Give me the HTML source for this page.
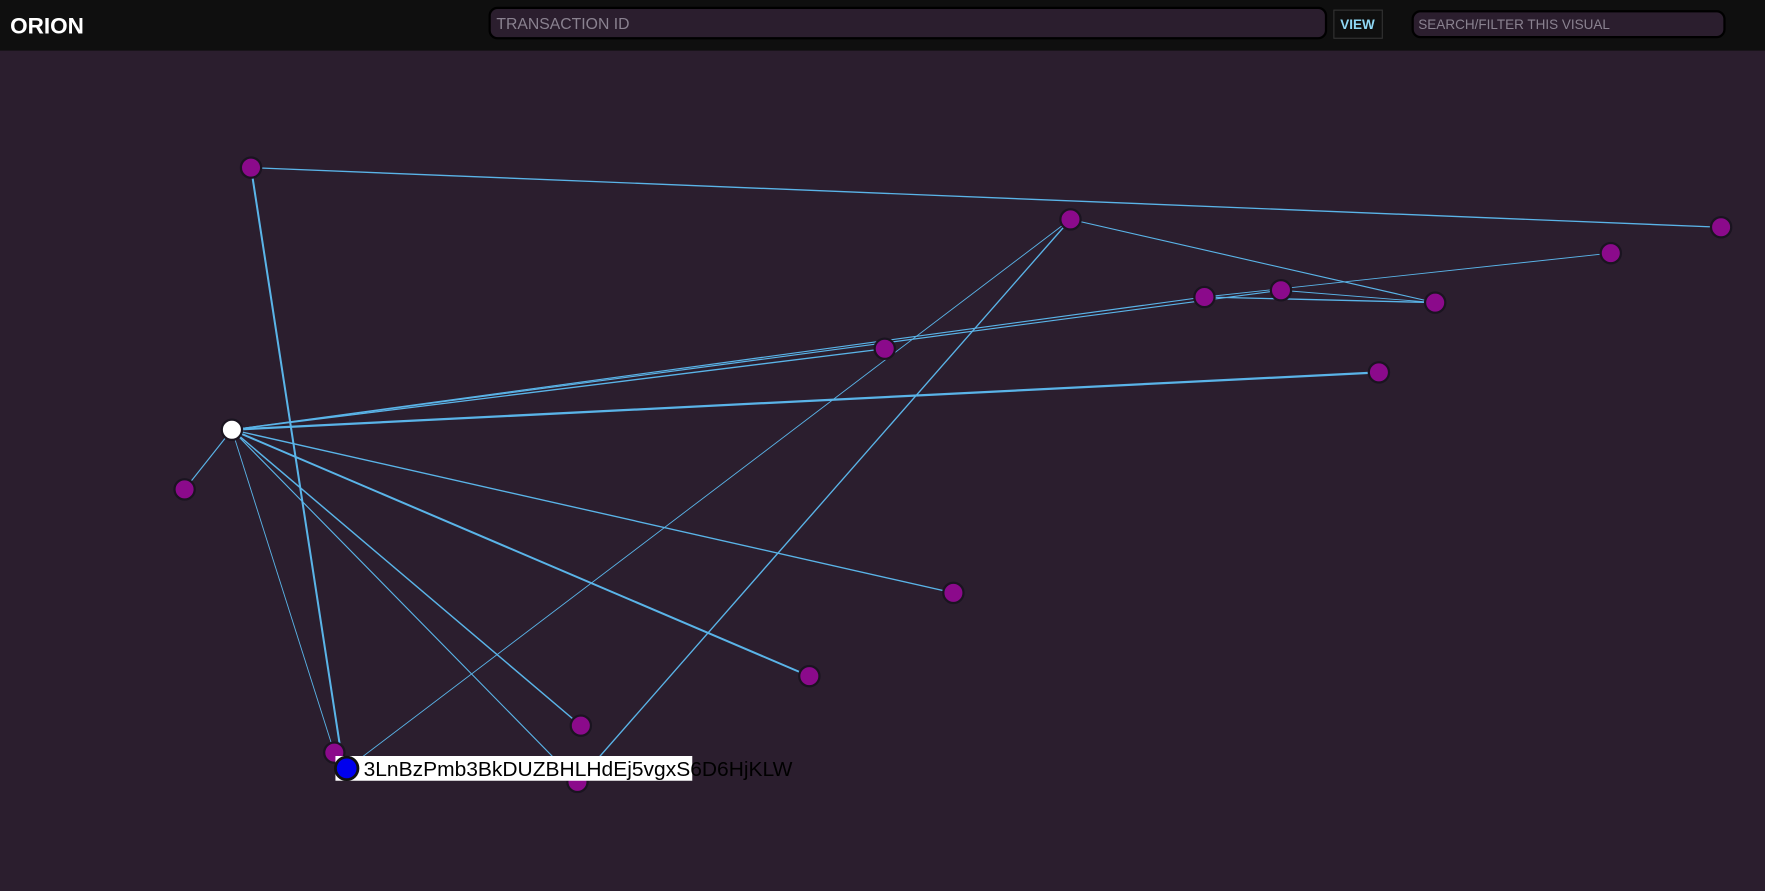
<!DOCTYPE html>
<html><head><meta charset="utf-8"><style>
html,body{margin:0;padding:0;background:#2b1e2e;overflow:hidden}
svg{display:block}
text{font-family:"Liberation Sans",sans-serif}
</style></head><body>
<svg width="1765" height="891" viewBox="0 0 1568 792" preserveAspectRatio="none" xmlns="http://www.w3.org/2000/svg">
<rect x="0" y="0" width="1568" height="792" fill="#2b1e2e"/>
<rect x="0" y="0" width="1568" height="45" fill="#0f0f0f"/>
<text x="9" y="30" font-size="20" fill="#fff" font-weight="bold">ORION</text>
<rect x="435" y="7" width="743" height="27" rx="7" fill="#2b1e2e" stroke="#000" stroke-width="2"/>
<text x="441" y="26" font-size="14" fill="#8a8290">TRANSACTION ID</text>
<rect x="1185" y="9" width="43" height="25" fill="#0f0f0f" stroke="#333" stroke-width="1"/>
<text x="1206" y="26" font-size="12" fill="#8fd8f5" font-weight="bold" text-anchor="middle">VIEW</text>
<rect x="1255" y="10" width="277" height="23" rx="7" fill="#2b1e2e" stroke="#000" stroke-width="2"/>
<text x="1260" y="26" font-size="12" fill="#8a8290">SEARCH/FILTER THIS VISUAL</text>
<g stroke="#5ab4e8" fill="none">
<line x1="223" y1="149" x2="1529" y2="202" stroke-width="1.2"/>
<line x1="223" y1="149" x2="304" y2="676" stroke-width="1.8"/>
<line x1="951" y1="195" x2="1275" y2="269" stroke-width="1"/>
<line x1="951" y1="195" x2="315" y2="678" stroke-width="0.8"/>
<line x1="951" y1="195" x2="513" y2="695" stroke-width="1.2"/>
<line x1="1070" y1="264" x2="1431" y2="225" stroke-width="0.8"/>
<line x1="1070" y1="264" x2="1275" y2="269" stroke-width="1.2"/>
<line x1="1138" y1="258" x2="1275" y2="269" stroke-width="0.8"/>
<line x1="206" y1="382" x2="786" y2="310" stroke-width="1.2"/>
<line x1="206" y1="382" x2="1070" y2="264" stroke-width="1"/>
<line x1="206" y1="382" x2="1138" y2="258" stroke-width="1"/>
<line x1="206" y1="382" x2="1225" y2="331" stroke-width="2"/>
<line x1="206" y1="382" x2="164" y2="435" stroke-width="1"/>
<line x1="206" y1="382" x2="847" y2="527" stroke-width="1.2"/>
<line x1="206" y1="382" x2="719" y2="601" stroke-width="1.8"/>
<line x1="206" y1="382" x2="516" y2="645" stroke-width="1.3"/>
<line x1="206" y1="382" x2="513" y2="695" stroke-width="1"/>
<line x1="206" y1="382" x2="297" y2="669" stroke-width="0.8"/>
</g>
<g fill="#8b0a8b" stroke="#1a1420" stroke-width="2">
<circle cx="223" cy="149" r="9"/>
<circle cx="951" cy="195" r="9"/>
<circle cx="1529" cy="202" r="9"/>
<circle cx="1431" cy="225" r="9"/>
<circle cx="1070" cy="264" r="9"/>
<circle cx="1138" cy="258" r="9"/>
<circle cx="1275" cy="269" r="9"/>
<circle cx="786" cy="310" r="9"/>
<circle cx="1225" cy="331" r="9"/>
<circle cx="164" cy="435" r="9"/>
<circle cx="847" cy="527" r="9"/>
<circle cx="719" cy="601" r="9"/>
<circle cx="516" cy="645" r="9"/>
<circle cx="297" cy="669" r="9"/>
<circle cx="513" cy="695" r="9"/>
</g>
<circle cx="206" cy="382" r="9" fill="#fff" stroke="#1a1420" stroke-width="2"/>
<rect x="298" y="672" width="317" height="22" fill="#fff"/>
<circle cx="308" cy="683" r="10" fill="#0000ee" stroke="#111" stroke-width="2.5"/>
<text x="323" y="690" font-size="18" fill="#000" textLength="381" lengthAdjust="spacingAndGlyphs">3LnBzPmb3BkDUZBHLHdEj5vgxS6D6HjKLW</text>
</svg>
</body></html>
